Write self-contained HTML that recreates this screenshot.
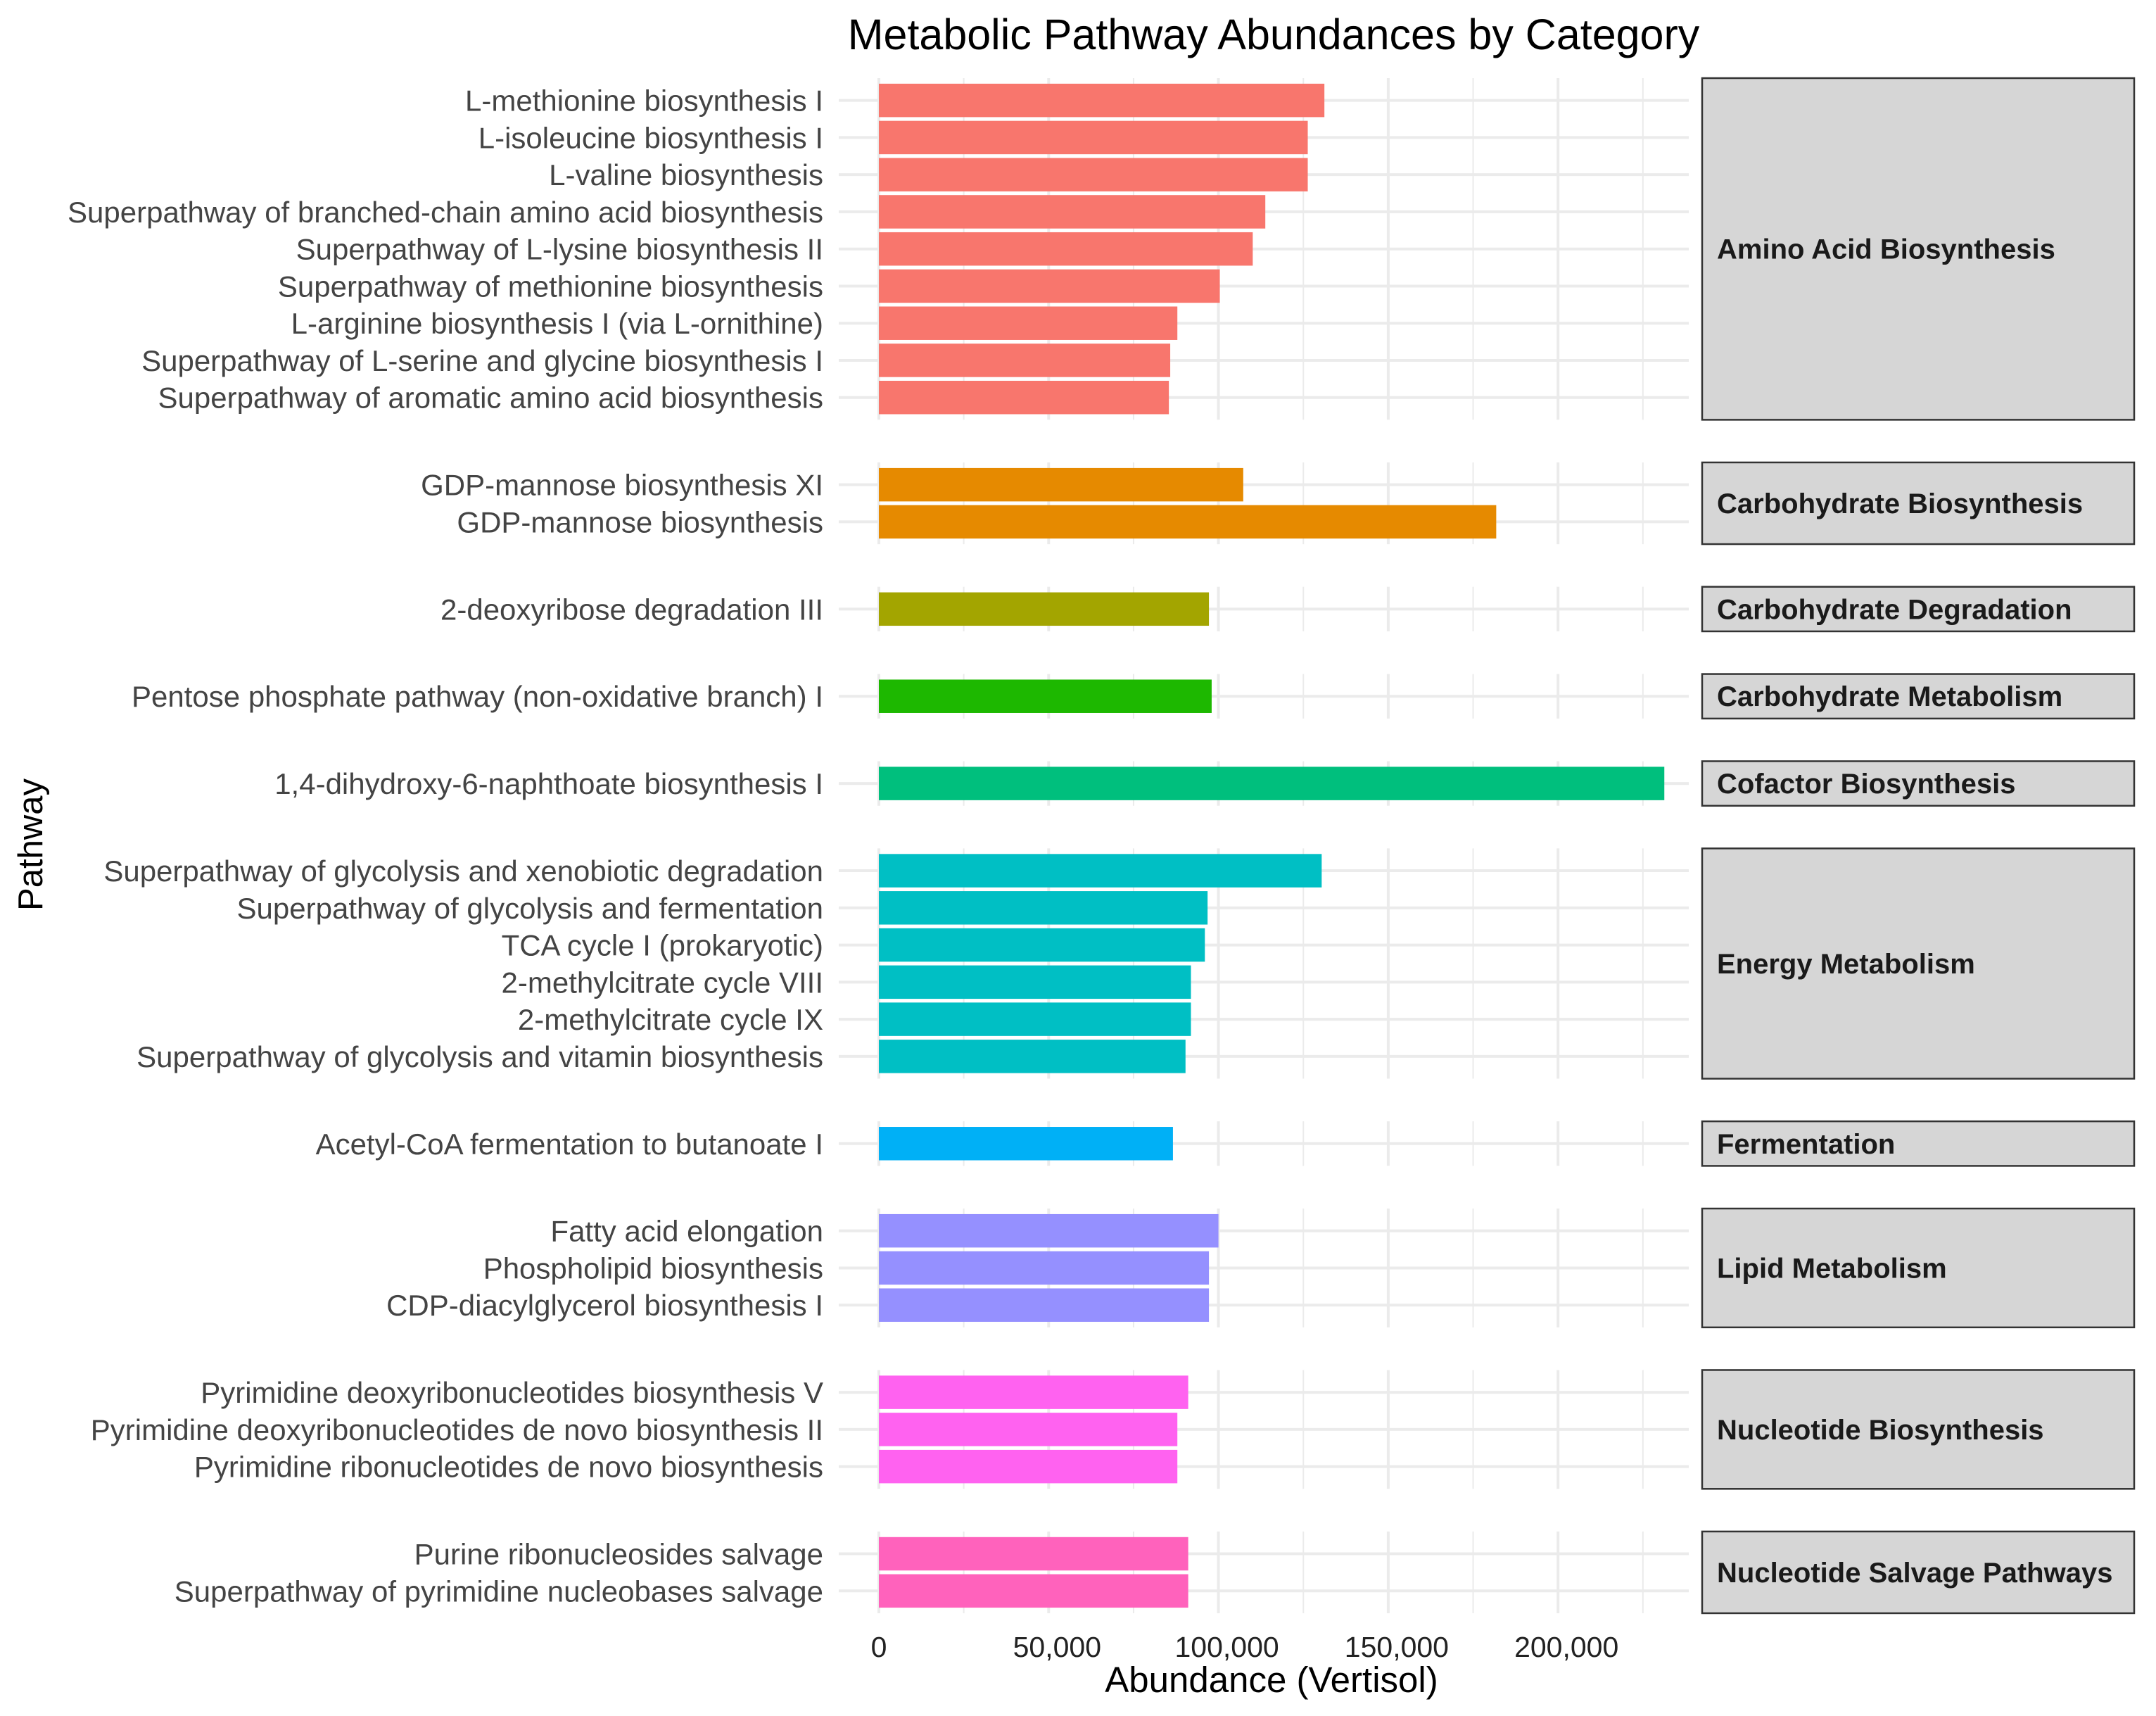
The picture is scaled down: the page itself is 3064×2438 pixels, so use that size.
<!DOCTYPE html>
<html><head><meta charset="utf-8"><style>
html,body{margin:0;padding:0;background:#fff;}
svg{display:block;font-family:"Liberation Sans",Arial,sans-serif;}
</style></head><body>
<svg id="chart" width="3064" height="2438" viewBox="0 0 3064 2438">
<text x="1810" y="70" font-size="61" text-anchor="middle" fill="#000">Metabolic Pathway Abundances by Category</text>
<text transform="translate(60,1200) rotate(-90)" font-size="49" text-anchor="middle" fill="#000">Pathway</text>
<text x="1807" y="2404" font-size="51" text-anchor="middle" fill="#000">Abundance (Vertisol)</text>
<g id="g"></g>
</svg>
<script>
const categories = ["Amino Acid Biosynthesis","Carbohydrate Biosynthesis","Carbohydrate Degradation","Carbohydrate Metabolism","Cofactor Biosynthesis","Energy Metabolism","Fermentation","Lipid Metabolism","Nucleotide Biosynthesis","Nucleotide Salvage Pathways"];
const colors = ["#F8766D","#E68A00","#A3A500","#1DB800","#00BF7D","#00BFC4","#00B0F6","#9590FF","#FF62F0","#FF62BC"];
const pathways = [
["L-methionine biosynthesis I","L-isoleucine biosynthesis I","L-valine biosynthesis","Superpathway of branched-chain amino acid biosynthesis","Superpathway of L-lysine biosynthesis II","Superpathway of methionine biosynthesis","L-arginine biosynthesis I (via L-ornithine)","Superpathway of L-serine and glycine biosynthesis I","Superpathway of aromatic amino acid biosynthesis"],
["GDP-mannose biosynthesis XI","GDP-mannose biosynthesis"],
["2-deoxyribose degradation III"],
["Pentose phosphate pathway (non-oxidative branch) I"],
["1,4-dihydroxy-6-naphthoate biosynthesis I"],
["Superpathway of glycolysis and xenobiotic degradation","Superpathway of glycolysis and fermentation","TCA cycle I (prokaryotic)","2-methylcitrate cycle VIII","2-methylcitrate cycle IX","Superpathway of glycolysis and vitamin biosynthesis"],
["Acetyl-CoA fermentation to butanoate I"],
["Fatty acid elongation","Phospholipid biosynthesis","CDP-diacylglycerol biosynthesis I"],
["Pyrimidine deoxyribonucleotides biosynthesis V","Pyrimidine deoxyribonucleotides de novo biosynthesis II","Pyrimidine ribonucleotides de novo biosynthesis"],
["Purine ribonucleosides salvage","Superpathway of pyrimidine nucleobases salvage"]];
const values = [
[131200,126300,126300,113800,110100,100400,87900,85800,85400],
[107300,181800],
[97200],
[98000],
[231300],
[130400,96800,96000,91900,91900,90300],
[86600],
[100000,97200,97200],
[91100,87900,87900],
[91100,91100]];
const ticks = [0,50000,100000,150000,200000];
const tickLabels = ["0","50,000","100,000","150,000","200,000"];

const NS="http://www.w3.org/2000/svg";
const g=document.getElementById('g');
const X0=1249, PX=241.3/50000;
const xs=v=>X0+v*PX;
const U=52.76, GAP=60.6, TOP0=111, PL=1192, PR=2400, SL=2419, SR=3033;
function el(t,a){const e=document.createElementNS(NS,t);for(const k in a)e.setAttribute(k,a[k]);g.appendChild(e);return e;}
let curTop=TOP0;
categories.forEach((cat,ci)=>{
  const n=pathways[ci].length;
  const h=(n+0.2)*U;
  for(let v=0;v<=225000;v+=25000){
    const gl=el('line',{x1:xs(v),x2:xs(v),y1:curTop,y2:curTop+h,stroke:'#EBEBEB','stroke-width':v%50000===0?4:2});
    
    
  }
  pathways[ci].forEach((p,i)=>{
    const yc=curTop+0.6*U+i*U;
    const hl=el('line',{x1:PL,x2:PR,y1:yc,y2:yc,stroke:'#EBEBEB','stroke-width':4});
    
    
  });
  pathways[ci].forEach((p,i)=>{
    const yc=curTop+0.6*U+i*U;
    const b=el('rect',{x:xs(0),y:yc-0.45*U,width:xs(values[ci][i])-xs(0),height:0.9*U,fill:colors[ci]});
    
    
    const t=el('text',{x:1170,y:yc+15,'font-size':42,'text-anchor':'end',fill:'#444'});
    t.textContent=p;
    
    
  });
  const s=el('rect',{x:SL,y:curTop,width:SR-SL,height:h,fill:'#D6D6D6',stroke:'#333','stroke-width':2.5});
  
  
  const st=el('text',{x:2440,y:curTop+h/2+14,'font-size':40,'font-weight':'bold',fill:'#1a1a1a'});
  st.textContent=cat;
  
  
  curTop+=h+GAP;
});
ticks.forEach((v,i)=>{
  const t=el('text',{x:xs(v)+(i?12:0),y:2354,'font-size':41,'text-anchor':'middle',fill:'#222'});
  t.textContent=tickLabels[i];
  
  
});
</script>
</body></html>
